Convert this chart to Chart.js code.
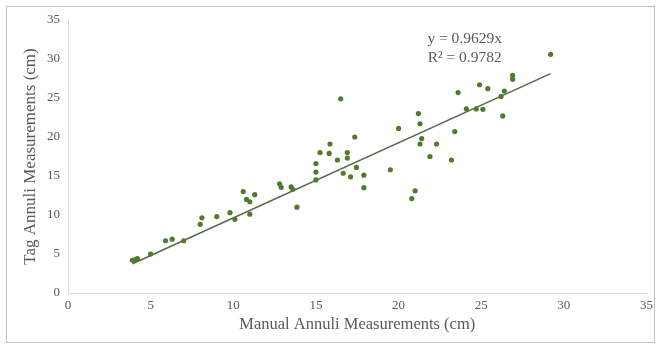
<!DOCTYPE html>
<html>
<head>
<meta charset="utf-8">
<script src="https://cdn.jsdelivr.net/npm/chart.js@4.4.0/dist/chart.umd.min.js"></script>
<style>
  body { margin: 0; background: #fff; }
  #wrap { width: 658px; height: 345px; }
</style>
</head>
<body>
<div id="wrap"><canvas id="annuli-chart" width="658" height="345"></canvas></div>
<script>
var manual = [3.9, 4.1, 4.2, 5.0, 5.9, 6.3, 7.0, 8.0, 8.1, 9.0, 9.8, 10.1, 10.6, 10.8, 11.0, 11.0, 11.3,
  12.8, 12.9, 13.5, 13.6, 13.85, 15.0, 15.0, 15.0, 15.25, 15.8, 15.85, 16.3, 16.5, 16.65, 16.9, 16.9,
  17.1, 17.35, 17.45, 17.9, 17.9, 19.5, 20.0, 20.8, 21.0, 21.2, 21.3, 21.4, 21.3, 21.9, 22.3, 23.2,
  23.4, 23.6, 24.1, 24.7, 24.9, 25.1, 25.4, 26.2, 26.3, 26.4, 26.9, 26.9, 29.2];
var tag = [4.2, 4.3, 4.4, 5.0, 6.7, 6.9, 6.7, 8.8, 9.65, 9.8, 10.3, 9.45, 13.0, 12.0, 11.7, 10.1, 12.6,
  14.0, 13.55, 13.6, 13.3, 11.0, 14.5, 15.5, 16.6, 18.0, 17.9, 19.1, 17.05, 24.9, 15.35, 18.0, 17.3,
  14.9, 20.0, 16.1, 15.1, 13.5, 15.8, 21.1, 12.1, 13.1, 23.0, 21.7, 19.8, 19.1, 17.5, 19.1, 17.05,
  20.7, 25.7, 23.6, 23.6, 26.7, 23.55, 26.2, 25.2, 22.7, 25.9, 27.4, 27.9, 30.6];

var slope = 0.9629;
var rSquared = 0.9782;
var axisTicks = [0, 5, 10, 15, 20, 25, 30, 35];

var points = manual.map((m, i) => ({ x: m, y: tag[i] }));
var xMin = Math.min(...manual);
var xMax = Math.max(...manual);
var trend = [{ x: xMin, y: slope * xMin }, { x: xMax, y: slope * xMax }];

var serif = "'Liberation Serif', 'DejaVu Serif', serif";
var grey = "#595959";

// equation label + outer frame
var extras = {
  id: 'extras',
  afterDraw(chart) {
    var ctx = chart.ctx;
    var xs = chart.scales.x, ys = chart.scales.y;
    ctx.save();
    ctx.strokeStyle = "#bfbfbf";
    ctx.lineWidth = 1;
    ctx.strokeRect(6.5, 6.5, chart.width - 10, chart.height - 9);
    ctx.fillStyle = grey;
    ctx.font = "15.5px " + serif;
    ctx.textAlign = "center";
    ctx.textBaseline = "middle";
    var cx = xs.getPixelForValue(24);
    ctx.fillText("y = " + slope + "x", cx, ys.getPixelForValue(32.6));
    ctx.fillText("R² = " + rSquared, cx, ys.getPixelForValue(30.2));
    ctx.restore();
  }
};

var ctx = document.getElementById("annuli-chart").getContext("2d");
var chart = new Chart(ctx, {
  type: "scatter",
  data: {
    datasets: [{
      label: "Measurements",
      data: points,
      backgroundColor: "#507b2c",
      borderColor: "#507b2c",
      pointRadius: 2.6,
      pointBorderWidth: 0
    }, {
      type: "line",
      label: "Trend",
      data: trend,
      borderColor: "#55694a",
      borderWidth: 1.5,
      pointRadius: 0,
      fill: false
    }]
  },
  options: {
    responsive: false,
    animation: false,
    layout: { padding: { left: 16, top: 20, right: 6, bottom: 6 } },
    plugins: { legend: { display: false }, tooltip: { enabled: false } },
    scales: {
      x: {
        type: "linear",
        min: 0, max: 35,
        afterBuildTicks: s => { s.ticks = axisTicks.map(v => ({ value: v })); },
        grid: { display: false, drawTicks: false },
        border: { color: "#d9d9d9", width: 1 },
        ticks: { color: grey, font: { family: serif, size: 13 }, padding: 5 },
        title: { display: true, text: "Manual Annuli Measurements (cm)", color: grey,
          font: { family: serif, size: 16.5 }, padding: { top: 5 } },
        afterFit: s => { s.height = 46; }
      },
      y: {
        type: "linear",
        min: 0, max: 35,
        afterBuildTicks: s => { s.ticks = axisTicks.map(v => ({ value: v })); },
        grid: { display: false, drawTicks: false },
        border: { color: "#d9d9d9", width: 1 },
        ticks: { color: grey, font: { family: serif, size: 13 }, padding: 8 },
        title: { display: true, text: "Tag Annuli Measurements (cm)", color: grey,
          font: { family: serif, size: 17 }, padding: { bottom: 2 } },
        afterFit: s => { s.width = 52; }
      }
    }
  },
  plugins: [extras]
});
</script>
</body>
</html>
